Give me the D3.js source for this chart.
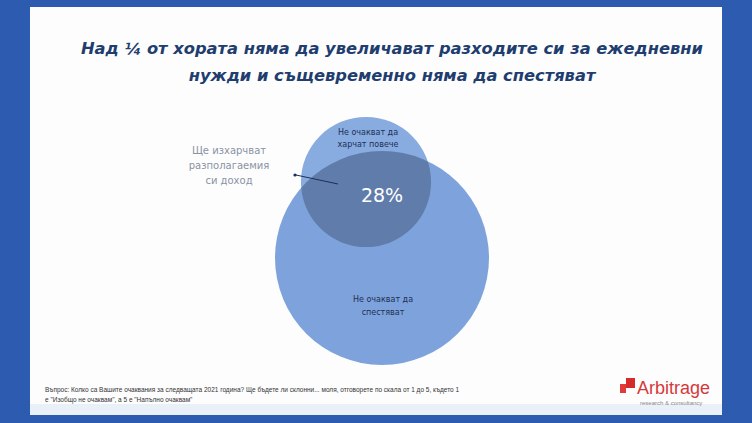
<!DOCTYPE html>
<html><head><meta charset="utf-8">
<script src="https://cdn.jsdelivr.net/npm/d3@7"></script>
<style>body{margin:0;background:#2d5bb0;}svg{display:block}</style></head>
<body><svg id="c" width="752" height="423"></svg>
<script>
const titleLines = ["Над ¼ от хората няма да увеличават разходите си за ежедневни","нужди и същевременно няма да спестяват"];
const sets = ["Не очакват да харчат повече","Не очакват да спестяват"];
const setSizes = [37, 100];
const overlapLabel = "28%";
const calloutLines = ["Ще изхарчват","разполагаемия","си доход"];
const sourceLines = ["Въпрос: Колко са Вашите очаквания за следващата 2021 година? Ще бъдете ли склонни... моля, отговорете по скала от 1 до 5, където 1","е \"Изобщо не очаквам\", а 5 е \"Напълно очаквам\""];

const svg = d3.select("#c");
svg.append("rect").attr("x",0).attr("y",0).attr("width",752).attr("height",423).attr("fill","#2d5bb0");
svg.append("rect").attr("x",30).attr("y",7).attr("width",692).attr("height",408).attr("fill","#fdfdfe");
svg.append("rect").attr("x",30).attr("y",404).attr("width",692).attr("height",11).attr("fill","#e9f0f8");

svg.selectAll("text.t").data(titleLines).enter().append("text")
  .attr("x",392).attr("y",(d,i)=>54+i*27).attr("text-anchor","middle")
  .attr("font-family","DejaVu Sans").attr("font-size",16.3).attr("font-weight","bold")
  .attr("fill","#1f3d6e").attr("font-style","italic").text(d=>d);

const r = d3.scaleSqrt().domain([0,100]).range([0,107]);
const centers = [[366,182],[382,258]];
svg.append("circle").attr("cx",centers[1][0]).attr("cy",centers[1][1]).attr("r",r(setSizes[1])).attr("fill","#7ea3dc");
svg.append("circle").attr("cx",centers[0][0]).attr("cy",centers[0][1]).attr("r",r(setSizes[0])).attr("fill","#88abe0");
svg.append("clipPath").attr("id","cl").append("circle").attr("cx",centers[1][0]).attr("cy",centers[1][1]).attr("r",r(setSizes[1]));
svg.append("circle").attr("cx",centers[0][0]).attr("cy",centers[0][1]).attr("r",r(setSizes[0])).attr("fill","#5f7cab").attr("clip-path","url(#cl)");

function lab(lines,x,y,dy,size,fill){
  svg.append("g").selectAll("text").data(lines).enter().append("text").attr("x",x).attr("y",(d,i)=>y+i*dy)
  .attr("text-anchor","middle").attr("font-family","DejaVu Sans").attr("font-size",size).attr("fill",fill).text(d=>d);
}
lab(["Не очакват да","харчат повече"],368,135,12,8,"#1c2f55");
lab(["Не очакват да","спестяват"],383,302,13,8,"#1c2f55");
svg.append("text").attr("x",382).attr("y",202).attr("text-anchor","middle").attr("font-family","DejaVu Sans").attr("font-size",19).attr("fill","#ffffff").text(overlapLabel);
lab(calloutLines,229,154,15,10,"#8a93a3");
svg.append("line").attr("x1",338).attr("y1",184).attr("x2",296).attr("y2",175).attr("stroke","#1c2f55").attr("stroke-width",1);
svg.append("circle").attr("cx",295).attr("cy",175).attr("r",1.6).attr("fill","#1c2f55");

svg.selectAll("text.s").data(sourceLines).enter().append("text").attr("x",45).attr("y",(d,i)=>392+i*10)
  .attr("font-family","Liberation Sans Narrow, Liberation Sans").attr("font-size",6.5).attr("fill","#333").text(d=>d);
svg.append("rect").attr("x",620).attr("y",384).attr("width",6).attr("height",9).attr("fill","#e03a3a");
svg.append("rect").attr("x",626).attr("y",378).attr("width",9).attr("height",10).attr("fill","#d52b2b");
svg.append("text").attr("x",637).attr("y",394).attr("font-family","Liberation Sans").attr("font-size",18).attr("fill","#d53a3a").text("Arbitrage");
svg.append("text").attr("x",640).attr("y",405).attr("font-family","Liberation Sans").attr("font-size",6).attr("fill","#888").text("research & consultancy");
</script></body></html>
